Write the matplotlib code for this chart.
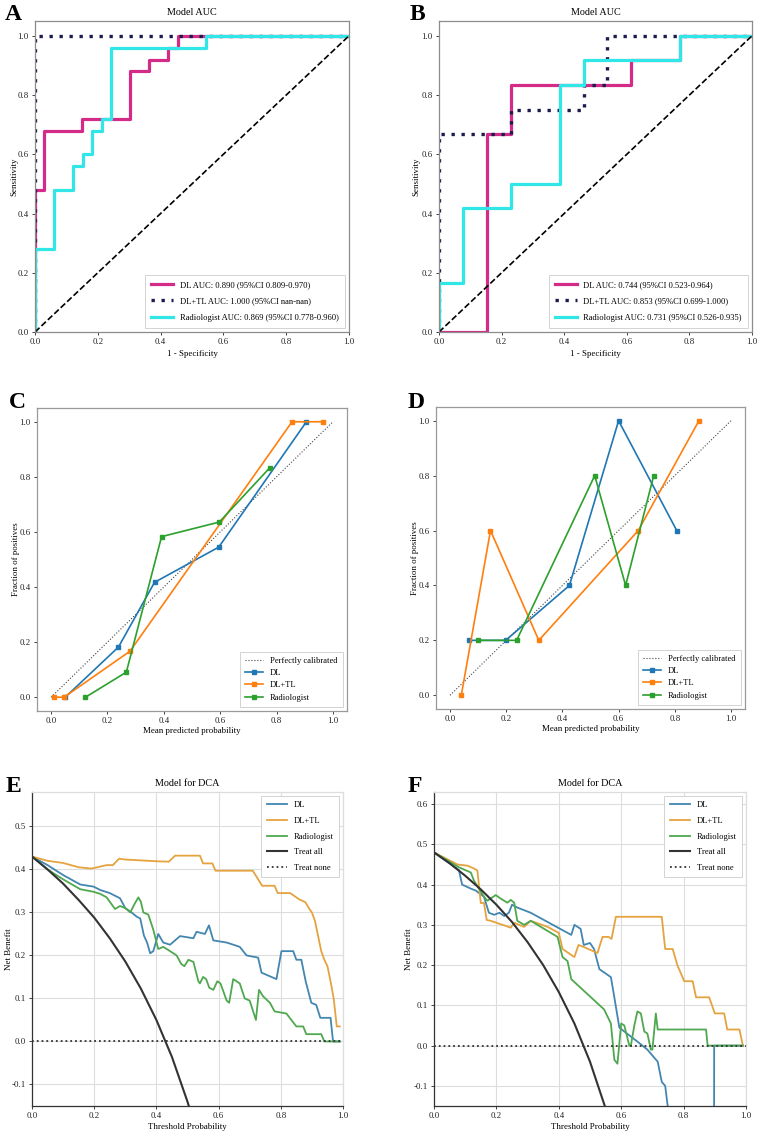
import matplotlib
matplotlib.use("Agg")
import matplotlib.pyplot as plt

plt.rcParams['font.family'] = ['Liberation Serif', 'DejaVu Serif']
plt.rcParams['axes.unicode_minus'] = False

# ---------------- DATA ----------------
# Panel A ROC (training)
a_dl_fpr = [0.0, 0.0, 0.03, 0.03, 0.15, 0.15, 0.303, 0.303, 0.364, 0.364, 0.424, 0.424, 0.455, 0.455, 1.0]
a_dl_tpr = [0.0, 0.48, 0.48, 0.68, 0.68, 0.72, 0.72, 0.88, 0.88, 0.92, 0.92, 0.96, 0.96, 1.0, 1.0]
a_dltl_fpr = [0.0, 0.0, 1.0]
a_dltl_tpr = [0.0, 1.0, 1.0]
a_rad_fpr = [0.0, 0.0, 0.061, 0.061, 0.121, 0.121, 0.152, 0.152, 0.182, 0.182, 0.212, 0.212, 0.242, 0.242, 0.545, 0.545, 1.0]
a_rad_tpr = [0.0, 0.28, 0.28, 0.48, 0.48, 0.56, 0.56, 0.60, 0.60, 0.68, 0.68, 0.72, 0.72, 0.96, 0.96, 1.0, 1.0]
a_labels = ["DL AUC: 0.890 (95%CI 0.809-0.970)",
            "DL+TL AUC: 1.000 (95%CI nan-nan)",
            "Radiologist AUC: 0.869 (95%CI 0.778-0.960)"]

# Panel B ROC (validation)
b_dl_fpr = [0.0, 0.154, 0.154, 0.231, 0.231, 0.615, 0.615, 0.769, 0.769, 1.0]
b_dl_tpr = [0.0, 0.0, 0.667, 0.667, 0.833, 0.833, 0.917, 0.917, 1.0, 1.0]
b_dltl_fpr = [0.0, 0.0, 0.231, 0.231, 0.462, 0.462, 0.538, 0.538, 1.0]
b_dltl_tpr = [0.0, 0.667, 0.667, 0.75, 0.75, 0.833, 0.833, 1.0, 1.0]
b_rad_fpr = [0.0, 0.0, 0.077, 0.077, 0.231, 0.231, 0.385, 0.385, 0.462, 0.462, 0.769, 0.769, 1.0]
b_rad_tpr = [0.0, 0.167, 0.167, 0.417, 0.417, 0.5, 0.5, 0.833, 0.833, 0.917, 0.917, 1.0, 1.0]
b_labels = ["DL AUC: 0.744 (95%CI 0.523-0.964)",
            "DL+TL AUC: 0.853 (95%CI 0.699-1.000)",
            "Radiologist AUC: 0.731 (95%CI 0.526-0.935)"]

# Panel C calibration
c_dl_x = [0.05, 0.239, 0.367, 0.595, 0.906]
c_dl_y = [0.0, 0.182, 0.417, 0.545, 1.0]
c_dltl_x = [0.012, 0.046, 0.28, 0.855, 0.964]
c_dltl_y = [0.0, 0.0, 0.167, 1.0, 1.0]
c_rad_x = [0.122, 0.267, 0.392, 0.597, 0.776]
c_rad_y = [0.0, 0.091, 0.583, 0.636, 0.833]

# Panel D calibration
d_dl_x = [0.066, 0.198, 0.425, 0.60, 0.807]
d_dl_y = [0.2, 0.2, 0.4, 1.0, 0.6]
d_dltl_x = [0.040, 0.144, 0.316, 0.67, 0.886]
d_dltl_y = [0.0, 0.6, 0.2, 0.6, 1.0]
d_rad_x = [0.098, 0.237, 0.515, 0.625, 0.725]
d_rad_y = [0.2, 0.2, 0.8, 0.4, 0.8]

cal_labels = ["DL", "DL+TL", "Radiologist"]

# Panel E DCA
e_all_x = [0.0, 0.05, 0.10, 0.15, 0.20, 0.25, 0.30, 0.35, 0.40, 0.45, 0.50, 0.52]
e_all_y = [0.43, 0.400, 0.367, 0.329, 0.288, 0.240, 0.186, 0.123, 0.050, -0.036, -0.140, -0.188]
e_dltl_x = [0.0, 0.05, 0.10, 0.15, 0.19, 0.21, 0.24, 0.26, 0.28, 0.30, 0.35, 0.40, 0.44, 0.46,
            0.54, 0.55, 0.58, 0.59, 0.71, 0.74, 0.78, 0.79, 0.83, 0.84, 0.86, 0.87, 0.88, 0.89,
            0.90, 0.91, 0.93, 0.94, 0.95, 0.96, 0.97, 0.98, 0.99]
e_dltl_y = [0.43, 0.42, 0.415, 0.405, 0.402, 0.405, 0.41, 0.41, 0.425, 0.423, 0.421, 0.419, 0.418, 0.432,
            0.432, 0.414, 0.414, 0.397, 0.397, 0.362, 0.362, 0.345, 0.345, 0.34, 0.33, 0.327, 0.323, 0.31,
            0.30, 0.28, 0.21, 0.19, 0.175, 0.14, 0.10, 0.035, 0.035]
e_dl_x = [0.0, 0.05, 0.10, 0.155, 0.198, 0.22, 0.25, 0.283, 0.30, 0.32, 0.337, 0.348, 0.36, 0.37,
          0.38, 0.39, 0.406, 0.422, 0.444, 0.476, 0.519, 0.529, 0.556, 0.569, 0.583, 0.626, 0.668,
          0.69, 0.727, 0.738, 0.786, 0.802, 0.84, 0.85, 0.866, 0.88, 0.898, 0.914, 0.927, 0.96,
          0.968, 0.99]
e_dl_y = [0.43, 0.41, 0.387, 0.365, 0.36, 0.352, 0.345, 0.333, 0.31, 0.30, 0.29, 0.286, 0.246, 0.23,
          0.205, 0.21, 0.25, 0.23, 0.225, 0.245, 0.24, 0.255, 0.25, 0.27, 0.235, 0.23, 0.22,
          0.20, 0.195, 0.16, 0.145, 0.21, 0.21, 0.19, 0.19, 0.14, 0.09, 0.085, 0.055, 0.055,
          0.0, 0.0]
e_rad_x = [0.0, 0.05, 0.10, 0.155, 0.198, 0.22, 0.24, 0.267, 0.283, 0.30, 0.316, 0.33, 0.342, 0.35,
           0.358, 0.374, 0.39, 0.406, 0.422, 0.444, 0.465, 0.48, 0.49, 0.503, 0.519, 0.535, 0.54,
           0.55, 0.56, 0.57, 0.583, 0.596, 0.606, 0.626, 0.634, 0.647, 0.668, 0.684, 0.70, 0.72,
           0.73, 0.743, 0.765, 0.78, 0.818, 0.834, 0.85, 0.872, 0.882, 0.93, 0.94, 0.99]
e_rad_y = [0.43, 0.40, 0.377, 0.354, 0.348, 0.343, 0.335, 0.308, 0.315, 0.31, 0.30, 0.32, 0.335, 0.325,
           0.30, 0.295, 0.26, 0.215, 0.22, 0.21, 0.20, 0.18, 0.175, 0.19, 0.185, 0.14, 0.135,
           0.15, 0.145, 0.125, 0.12, 0.14, 0.135, 0.095, 0.09, 0.145, 0.135, 0.10, 0.095, 0.05,
           0.12, 0.105, 0.09, 0.07, 0.065, 0.05, 0.035, 0.035, 0.017, 0.017, 0.0, 0.0]

# Panel F DCA
f_all_x = [0.0, 0.05, 0.10, 0.15, 0.20, 0.25, 0.30, 0.35, 0.40, 0.45, 0.50, 0.55]
f_all_y = [0.48, 0.453, 0.422, 0.388, 0.350, 0.307, 0.257, 0.200, 0.133, 0.055, -0.040, -0.156]
f_dltl_x = [0.0, 0.075, 0.107, 0.128, 0.139, 0.15, 0.16, 0.169, 0.182, 0.246, 0.257, 0.289, 0.31,
            0.364, 0.40, 0.412, 0.45, 0.463, 0.48, 0.524, 0.54, 0.56, 0.569, 0.583, 0.73, 0.741,
            0.765, 0.78, 0.802, 0.829, 0.84, 0.882, 0.90, 0.93, 0.94, 0.979, 0.99]
f_dltl_y = [0.48, 0.45, 0.447, 0.44, 0.435, 0.354, 0.355, 0.312, 0.31, 0.293, 0.305, 0.295, 0.31,
            0.295, 0.28, 0.24, 0.22, 0.25, 0.245, 0.23, 0.27, 0.27, 0.265, 0.32, 0.32, 0.24,
            0.24, 0.20, 0.16, 0.16, 0.12, 0.12, 0.08, 0.08, 0.04, 0.04, 0.0]
f_dl_x = [0.0, 0.08, 0.09, 0.118, 0.134, 0.16, 0.176, 0.193, 0.21, 0.225, 0.24, 0.25, 0.267, 0.31,
          0.44, 0.45, 0.47, 0.48, 0.50, 0.513, 0.53, 0.567, 0.578, 0.594, 0.61, 0.652, 0.684,
          0.717, 0.73, 0.741, 0.749, 0.76, 0.85, 0.897, 0.898, 0.99]
f_dl_y = [0.48, 0.436, 0.40, 0.39, 0.385, 0.37, 0.33, 0.325, 0.33, 0.322, 0.33, 0.35, 0.343, 0.33,
          0.275, 0.30, 0.29, 0.25, 0.255, 0.24, 0.19, 0.17, 0.12, 0.045, 0.035, 0.01, -0.01,
          -0.04, -0.09, -0.10, -0.15, -0.20, -0.50, -0.60, 0.0, 0.0]
f_rad_x = [0.0, 0.08, 0.118, 0.128, 0.16, 0.171, 0.198, 0.214, 0.235, 0.246, 0.257, 0.267, 0.289,
           0.31, 0.396, 0.412, 0.428, 0.44, 0.545, 0.567, 0.578, 0.588, 0.60, 0.61, 0.626, 0.631,
           0.642, 0.652, 0.663, 0.674, 0.684, 0.695, 0.70, 0.711, 0.717, 0.872, 0.877, 0.99]
f_rad_y = [0.48, 0.443, 0.43, 0.41, 0.37, 0.36, 0.374, 0.365, 0.355, 0.362, 0.355, 0.31, 0.30,
           0.31, 0.27, 0.22, 0.21, 0.165, 0.09, 0.055, -0.035, -0.045, 0.055, 0.05, 0.0, 0.0,
           0.05, 0.085, 0.08, 0.035, 0.03, -0.01, -0.01, 0.08, 0.04, 0.04, 0.0, 0.0]

dca_labels = ["DL", "DL+TL", "Radiologist", "Treat all", "Treat none"]
ticks01 = [0.0, 0.2, 0.4, 0.6, 0.8, 1.0]

# ---------------- STYLE ----------------
W, H = 767, 1141
fig = plt.figure(figsize=(W / 100, H / 100), dpi=100)

MAG = '#d42b88'
CYA = '#30e6e6'
NAV = '#1b1b4d'
BLUE = '#1f77b4'
ORNG = '#ff7f0e'
GRN = '#2ca02c'
DBLUE = '#4386b0'
DORNG = '#e5a340'
DGRN = '#4fa84f'
FRAME = '#8c8c8c'

TFS = 6.4
LFS = 6.4
TITFS = 7.3


def ax_at(x0, y0, x1, y1):
    return fig.add_axes([x0 / W, 1 - y1 / H, (x1 - x0) / W, (y1 - y0) / H])


def letter(x, y, s):
    fig.text(x / W, 1 - y / H, s, fontsize=17, fontweight='bold', ha='left', va='center')


def frame(ax, color=FRAME):
    for sp in ax.spines.values():
        sp.set_color(color)
        sp.set_linewidth(0.9)
    ax.tick_params(labelsize=TFS, length=2.5, width=0.6, colors='#222222', pad=2)


def roc_panel(ax, dl, dltl, rad, labels, ylab_x):
    ax.plot(dl[0], dl[1], color=MAG, lw=2.3, label=labels[0])
    ax.plot(dltl[0], dltl[1], color=NAV, lw=2.4, ls=(0, (1, 2)), label=labels[1])
    ax.plot(rad[0], rad[1], color=CYA, lw=2.3, label=labels[2])
    ax.plot([0, 1], [0, 1], color='black', lw=1.2, ls='--')
    ax.set_xlim(0, 1)
    ax.set_ylim(0, 1.05)
    ax.set_xticks(ticks01)
    ax.set_yticks(ticks01)
    ax.set_title("Model AUC", fontsize=TITFS, pad=4)
    ax.set_xlabel("1 - Specificity", fontsize=LFS, labelpad=3)
    ax.set_ylabel("Sensitivity", fontsize=LFS)
    ax.yaxis.set_label_coords(ylab_x, 0.5)
    frame(ax)
    leg = ax.legend(loc='lower right', fontsize=6.1, handlelength=2.6, borderpad=0.7,
                    labelspacing=1.0, fancybox=False, edgecolor='#cccccc', framealpha=1)
    leg.get_frame().set_linewidth(0.6)


def cal_panel(ax, dl, dltl, rad, ylab_x):
    ax.plot([0, 1], [0, 1], color='#444444', lw=0.8, ls=':', label="Perfectly calibrated")
    ax.plot(dl[0], dl[1], color=BLUE, lw=1.2, marker='s', ms=3.5, label=cal_labels[0])
    ax.plot(dltl[0], dltl[1], color=ORNG, lw=1.2, marker='s', ms=3.5, label=cal_labels[1])
    ax.plot(rad[0], rad[1], color=GRN, lw=1.2, marker='s', ms=3.5, label=cal_labels[2])
    ax.set_xlim(-0.05, 1.05)
    ax.set_ylim(-0.05, 1.05)
    ax.set_xticks(ticks01)
    ax.set_yticks(ticks01)
    ax.set_xlabel("Mean predicted probability", fontsize=LFS, labelpad=1)
    ax.set_ylabel("Fraction of positives", fontsize=LFS)
    ax.yaxis.set_label_coords(ylab_x, 0.5)
    frame(ax, '#999999')
    leg = ax.legend(loc='lower right', fontsize=6.1, handlelength=2.2, borderpad=0.6,
                    labelspacing=0.5, fancybox=False, edgecolor='#cccccc', framealpha=1)
    leg.get_frame().set_linewidth(0.6)


def dca_panel(ax, dl, dltl, rad, tall, ymax, yticks, ylab_x):
    ax.plot(dl[0], dl[1], color=DBLUE, lw=1.3, label=dca_labels[0])
    ax.plot(dltl[0], dltl[1], color=DORNG, lw=1.3, label=dca_labels[1])
    ax.plot(rad[0], rad[1], color=DGRN, lw=1.3, label=dca_labels[2])
    ax.plot(tall[0], tall[1], color='#333333', lw=1.5, label=dca_labels[3])
    ax.plot([0, 1], [0, 0], color='#333333', lw=1.3, ls=':', label=dca_labels[4])
    ax.set_xlim(0, 1)
    ax.set_ylim(-0.15, ymax)
    ax.set_xticks(ticks01)
    ax.set_yticks(yticks)
    ax.grid(True, color='#dddddd', lw=0.8)
    ax.set_axisbelow(True)
    ax.set_title("Model for DCA", fontsize=TITFS, pad=4)
    ax.set_xlabel("Threshold Probability", fontsize=LFS, labelpad=2)
    ax.set_ylabel("Net Benefit", fontsize=LFS)
    ax.yaxis.set_label_coords(ylab_x, 0.5)
    for k, sp in ax.spines.items():
        sp.set_linewidth(0.9)
        sp.set_color('#333333' if k in ('left', 'bottom') else '#dddddd')
    ax.tick_params(labelsize=TFS, length=2.5, width=0.6, colors='#222222', pad=2)
    leg = ax.legend(loc='upper right', fontsize=6.1, handlelength=2.4, borderpad=0.6,
                    labelspacing=0.9, fancybox=False, edgecolor='#cccccc', framealpha=1)
    leg.get_frame().set_linewidth(0.6)


axA = ax_at(35, 21, 349, 332)
roc_panel(axA, (a_dl_fpr, a_dl_tpr), (a_dltl_fpr, a_dltl_tpr), (a_rad_fpr, a_rad_tpr), a_labels, -0.054)
axB = ax_at(439, 21, 752, 332)
roc_panel(axB, (b_dl_fpr, b_dl_tpr), (b_dltl_fpr, b_dltl_tpr), (b_rad_fpr, b_rad_tpr), b_labels, -0.061)

axC = ax_at(37, 408, 347, 711)
cal_panel(axC, (c_dl_x, c_dl_y), (c_dltl_x, c_dltl_y), (c_rad_x, c_rad_y), -0.055)
axD = ax_at(436, 407, 745, 709)
cal_panel(axD, (d_dl_x, d_dl_y), (d_dltl_x, d_dltl_y), (d_rad_x, d_rad_y), -0.055)

axE = ax_at(32, 792, 343, 1106)
dca_panel(axE, (e_dl_x, e_dl_y), (e_dltl_x, e_dltl_y), (e_rad_x, e_rad_y), (e_all_x, e_all_y),
          0.58, [-0.1, 0.0, 0.1, 0.2, 0.3, 0.4, 0.5], -0.061)
axF = ax_at(434, 792, 746, 1106)
dca_panel(axF, (f_dl_x, f_dl_y), (f_dltl_x, f_dltl_y), (f_rad_x, f_rad_y), (f_all_x, f_all_y),
          0.63, [-0.1, 0.0, 0.1, 0.2, 0.3, 0.4, 0.5, 0.6], -0.067)

letter(5, 15, "A")
letter(410, 15, "B")
letter(9, 402, "C")
letter(408, 402, "D")
letter(6, 786, "E")
letter(408, 786, "F")

fig.savefig("out.png", dpi=100, facecolor='white')
